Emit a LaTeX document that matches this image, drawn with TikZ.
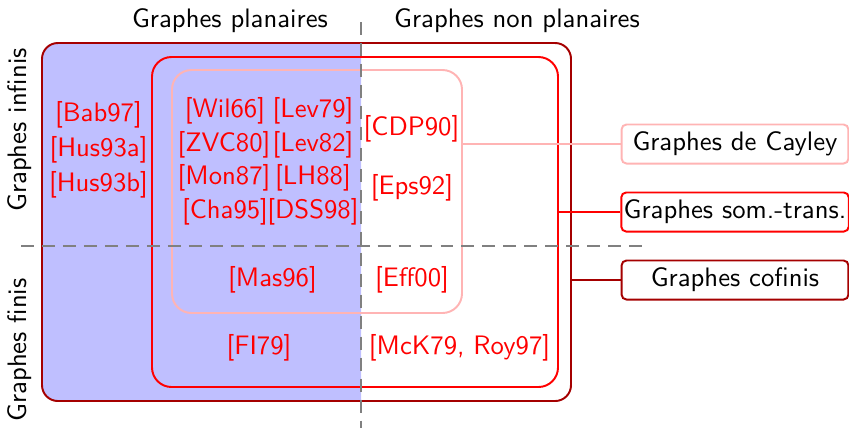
\documentclass[tikz,border=0pt]{standalone}
\usepackage{tikz}
\usetikzlibrary{positioning,fit,calc}
\usepackage{xcolor}
\definecolor{cofred}{RGB}{165,0,0}
\definecolor{strred}{RGB}{255,0,0}
\definecolor{caypink}{RGB}{255,180,180}
\definecolor{planblue}{RGB}{191,191,255}
\tikzstyle{ref} = [text=red, inner sep=1pt]
\tikzstyle{title} = [inner sep=1pt]
\tikzstyle{classbox} = [draw, line width=0.8pt, rounded corners=2pt, minimum width=93pt, minimum height=16pt, inner sep=1pt]
\tikzstyle{cut} = [gray, line width=0.8pt, dash pattern=on 5.3pt off 3.3pt]

\begin{document}
\begin{tikzpicture}[x=0.41pt, y=-0.41pt, font=\fontsize{10.95pt}{13pt}\selectfont\sffamily]
    \useasboundingbox (0,0) rectangle (849,428);

    % Planar half
    \begin{scope}
        \clip (0,0) rectangle (361,428);
        \fill[planblue, rounded corners=6.5pt] (42,43) rectangle (571,401);
    \end{scope}

    % Classes
    \node[fit={(42,43) (571,401)}, inner sep=0, draw=cofred, line width=0.8pt, rounded corners=6.5pt] (cofin) {};
    \node[fit={(152,57) (558,387)}, inner sep=0, draw=strred, line width=0.8pt, rounded corners=8pt] (somtr) {};
    \node[fit={(172,70) (462,313)}, inner sep=0, draw=caypink, line width=0.8pt, rounded corners=8pt] (cayl) {};

    % Cuts
    \coordinate (vtop) at (361,22);
    \coordinate (vbot) at (361,428);
    \coordinate (hleft) at (21,246);
    \coordinate (hright) at (647,246);
    \draw[cut] (vtop) -- (vbot);
    \draw[cut] (hleft) -- (hright);

    % Titles
    \node[title] (planar) at (230,21) {Graphes planaires};
    \node[title] (nonplanar) at (517,21) {Graphes non planaires};
    \node[title, rotate=90] (infinite) at (20,130) {Graphes infinis};
    \node[title, rotate=90] (finite) at (20,350) {Graphes finis};

    % References
    \node[ref] (bab) at (98.5,114.5) {[Bab97]};
    \node[ref] (husa) at (98.5,150) {[Hus93a]};
    \node[ref] (husb) at (98.5,185) {[Hus93b]};
    \node[ref] (wil) at (225,111) {[Wil66]};
    \node[ref] (levA) at (313,111) {[Lev79]};
    \node[ref] (zvc) at (224,144.5) {[ZVC80]};
    \node[ref] (levB) at (313,144.5) {[Lev82]};
    \node[ref] (mon) at (224,178) {[Mon87]};
    \node[ref] (lh) at (313,178) {[LH88]};
    \node[ref] (cha) at (225,211.5) {[Cha95]};
    \node[ref] (dss) at (313,211.5) {[DSS98]};
    \node[ref] (cdp) at (411.5,128.5) {[CDP90]};
    \node[ref] (eps) at (412,187.5) {[Eps92]};
    \node[ref] (mas) at (272.5,279.5) {[Mas96]};
    \node[ref] (eff) at (412,279.5) {[Eff00]};
    \node[ref] (fi) at (259,348) {[FI79]};
    \node[ref] (mck) at (459.5,348) {[McK79, Roy97]};

    % Legend
    \node[classbox, draw=caypink] (cayley) at (735,144) {Graphes de Cayley};
    \node[classbox, draw=strred] (somtrans) at (735,212) {Graphes som.-trans.};
    \node[classbox, draw=cofred] (cofinis) at (735,280) {Graphes cofinis};
    \draw[caypink, line width=0.8pt] (cayley.west) -- (cayley.west -| cayl.east);
    \draw[strred, line width=0.8pt] (somtrans.west) -- (somtrans.west -| somtr.east);
    \draw[cofred, line width=0.8pt] (cofinis.west) -- (cofinis.west -| cofin.east);
\end{tikzpicture}
\end{document}
